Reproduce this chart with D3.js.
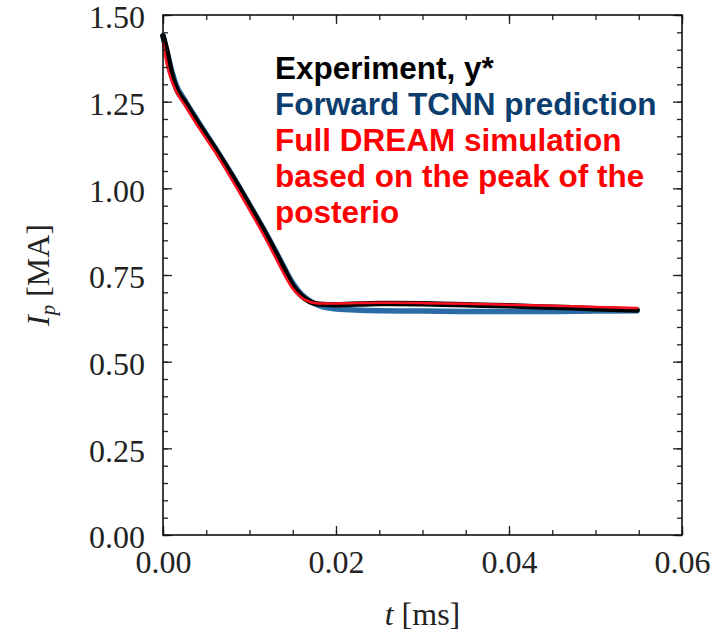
<!DOCTYPE html>
<html lang="en">
  <head>
    <meta charset="UTF-8" />
    <title>Plasma current Ip vs t</title>
    <script src="https://cdn.jsdelivr.net/npm/d3@7/dist/d3.min.js"></script>
    <style>
      body {
        margin: 0;
        background: #fff;
      }
      .tick text {
        font-family: "Liberation Serif", "DejaVu Serif", serif;
        font-size: 32px;
        fill: #222;
      }
      .legend text {
        font-family: "Liberation Sans", Arial, sans-serif;
        font-weight: bold;
        font-size: 31.5px;
      }
    </style>
  </head>
  <body>
    <svg width="716" height="636"></svg>
    <script>
      // time [ms] and plasma current [MA]
      const time = [0, 0.0005, 0.001, 0.0015, 0.0025, 0.004, 0.006, 0.008, 0.01, 0.012, 0.013, 0.014,
        0.015, 0.016, 0.017, 0.018, 0.02, 0.025, 0.03, 0.035, 0.04, 0.045, 0.05, 0.0548];
      const ipTcnn = [1.44, 1.39, 1.34, 1.3, 1.255, 1.195, 1.118, 1.038, 0.953, 0.866, 0.82, 0.772,
        0.727, 0.695, 0.675, 0.662, 0.652, 0.647, 0.646, 0.645, 0.645, 0.645, 0.646, 0.647];
      const ipExperiment = [1.44, 1.39, 1.33, 1.29, 1.25, 1.19, 1.115, 1.035, 0.95, 0.862, 0.815, 0.767,
        0.72, 0.69, 0.673, 0.666, 0.664, 0.668, 0.667, 0.664, 0.661, 0.657, 0.653, 0.649];
      const ipDream = [1.42, 1.35, 1.31, 1.28, 1.24, 1.18, 1.105, 1.023, 0.937, 0.848, 0.8, 0.752,
        0.71, 0.685, 0.672, 0.668, 0.668, 0.67, 0.669, 0.667, 0.664, 0.661, 0.658, 0.655];

      const xTicks = [0, 0.02, 0.04, 0.06];
      const yTicks = [0, 0.25, 0.5, 0.75, 1.0, 1.25, 1.5];

      const legendLines = [
        { text: "Experiment, y*", color: "#000" },
        { text: "Forward TCNN prediction", color: "#0b3d6e" },
        { text: "Full DREAM simulation", color: "#ff0000" },
        { text: "based on the peak of the", color: "#ff0000" },
        { text: "posterio", color: "#ff0000" },
      ];

      const svg = d3.select("svg");
      const box = { left: 163, right: 682, top: 15, bottom: 535 };

      const x = d3.scaleLinear().domain([0, 0.06]).range([box.left, box.right]);
      const y = d3.scaleLinear().domain([0, 1.5]).range([box.bottom, box.top]);

      const line = (vals) =>
        d3.line()
          .x((d, i) => x(time[i]))
          .y((d) => y(d))
          .curve(d3.curveMonotoneX)(vals);

      // curves
      const series = [
        { vals: ipTcnn, color: "#2c6ca6", width: 5.5 },
        { vals: ipExperiment, color: "#000", width: 5.5 },
        { vals: ipDream, color: "#ff1020", width: 2.5 },
      ];
      svg.append("g")
        .selectAll("path")
        .data(series)
        .join("path")
        .attr("d", (d) => line(d.vals))
        .attr("fill", "none")
        .attr("stroke", (d) => d.color)
        .attr("stroke-width", (d) => d.width)
        .attr("stroke-linecap", "round")
        .attr("stroke-linejoin", "round");

      // axes, ticks pointing inward
      const fmt = d3.format(".2f");
      function addAxis(axis, transform, labels) {
        const g = svg.append("g").attr("transform", transform).call(axis);
        g.select(".domain").remove();
        g.selectAll(".tick line").attr("stroke", "#222").attr("stroke-width", 1.3);
        if (!labels) g.selectAll(".tick text").remove();
        return g;
      }

      const minorX = d3.range(0, 0.0601, 0.005);
      const minorY = d3.range(0, 1.501, 0.05);

      addAxis(d3.axisBottom(x).tickValues(xTicks).tickFormat(fmt).tickSize(-9).tickPadding(15),
        `translate(0,${box.bottom})`, true);
      addAxis(d3.axisBottom(x).tickValues(minorX).tickSize(-5), `translate(0,${box.bottom})`, false);
      addAxis(d3.axisTop(x).tickValues(xTicks).tickSize(-9), `translate(0,${box.top})`, false);
      addAxis(d3.axisTop(x).tickValues(minorX).tickSize(-5), `translate(0,${box.top})`, false);

      const yAx = addAxis(d3.axisLeft(y).tickValues(yTicks).tickFormat(fmt).tickSize(-9).tickPadding(18),
        `translate(${box.left},0)`, true);
      yAx.selectAll(".tick text").attr("dy", "0.4em");
      addAxis(d3.axisLeft(y).tickValues(minorY).tickSize(-5), `translate(${box.left},0)`, false);
      addAxis(d3.axisRight(y).tickValues(yTicks).tickSize(-9), `translate(${box.right},0)`, false);
      addAxis(d3.axisRight(y).tickValues(minorY).tickSize(-5), `translate(${box.right},0)`, false);

      // frame
      svg.append("rect")
        .attr("x", box.left).attr("y", box.top)
        .attr("width", box.right - box.left).attr("height", box.bottom - box.top)
        .attr("fill", "none").attr("stroke", "#111").attr("stroke-width", 1.6);

      // axis labels
      const serif = '"Liberation Serif", "DejaVu Serif", serif';
      const yl = svg.append("text")
        .attr("transform", `translate(49,${(box.top + box.bottom) / 2}) rotate(-90)`)
        .attr("text-anchor", "middle")
        .style("font-family", serif)
        .style("font-size", "32px")
        .attr("fill", "#222");
      yl.append("tspan").style("font-style", "italic").text("I");
      yl.append("tspan").attr("dy", 6).style("font-size", "21px").style("font-style", "italic").text("p");
      yl.append("tspan").attr("dy", -6).text(" [MA]");

      const xl = svg.append("text")
        .attr("x", (box.left + box.right) / 2)
        .attr("y", 625)
        .attr("text-anchor", "middle")
        .style("font-family", serif)
        .style("font-size", "32px")
        .attr("fill", "#222");
      xl.append("tspan").style("font-style", "italic").text("t");
      xl.append("tspan").text(" [ms]");

      // legend text
      svg.append("g")
        .attr("class", "legend")
        .selectAll("text")
        .data(legendLines)
        .join("text")
        .attr("x", 275)
        .attr("y", (d, i) => 79 + i * 36)
        .attr("fill", (d) => d.color)
        .text((d) => d.text);
    </script>
  </body>
</html>
